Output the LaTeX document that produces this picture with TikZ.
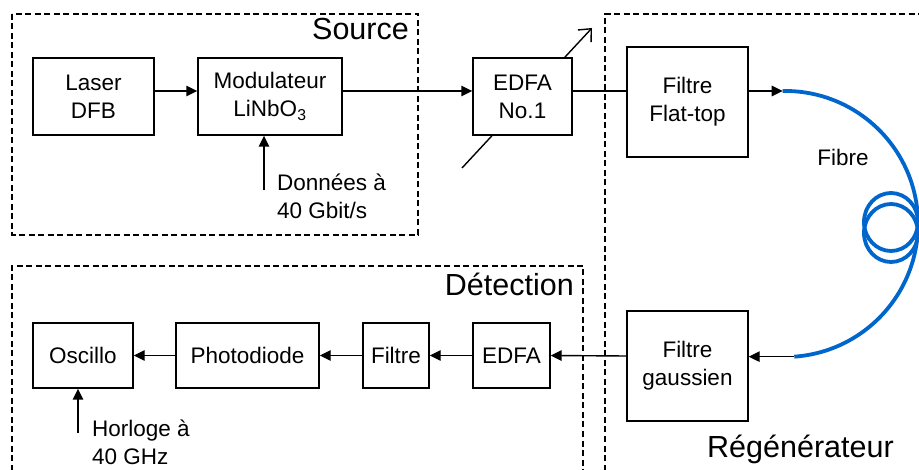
\documentclass[tikz,border=0pt]{standalone}
\usepackage{fontspec}
\setmainfont{Liberation Sans}
\usetikzlibrary{arrows.meta}
\definecolor{fibreblue}{RGB}{0,102,204}
\newcommand{\boxfont}{\fontsize{22.5}{28}\selectfont}
\newcommand{\labelfont}{\fontsize{30.5}{34}\selectfont}
\begin{document}
\begin{tikzpicture}[x=1pt,y=-1pt,
  box/.style={draw, line width=1.4pt, fill=white, align=center, inner sep=0pt, font=\boxfont},
  link/.style={line width=1.4pt},
  arr/.style={link, -{Triangle[length=11pt,width=10.5pt]}},
  gain/.style={link, -{Straight Barb[length=10pt,width=18pt,line width=1.4pt]}},
  frame/.style={line width=1.1pt, dash pattern=on 6pt off 3.5pt},
  bigl/.style={font=\labelfont, inner sep=0pt},
  note/.style={font=\boxfont, align=left, inner sep=0pt, anchor=west},
  fibre/.style={draw=fibreblue, line width=3.8pt}
]
\useasboundingbox (0,0) rectangle (919,470);
\clip (0,0) rectangle (919,470);

% dashed sub-system frames
\draw[frame] (12,14) rectangle (418,235);
\draw[frame] (12,480) -- (12,266) -- (583,266) -- (583,480);
\draw[frame] (605,480) -- (605,14) -- (930,14);
\node[bigl, anchor=base east] (srcl) at (409,40) {Source};
\node[bigl, anchor=base east] (detl) at (574,296) {Détection};
\node[bigl, anchor=base west] (regl) at (707,457) {Régénérateur};

% amplifier gain arrow, drawn under the EDFA box
\coordinate (gIn) at (462,168);
\coordinate (gOut) at (592,28);
\draw[gain] (gIn) -- (gOut);

% transmitter
\node[box, minimum width=121pt, minimum height=77pt] (laser) at (93.5,96.5) {Laser\\DFB};
\node[box, minimum width=144pt, minimum height=77pt] (mod) at (270,96.5) {Modulateur\\LiNbO\textsubscript{3}};
\node[box, minimum width=99pt, minimum height=77pt] (edfa1) at (522.5,96.5) {EDFA\\No.1};

% regenerator
\node[box, minimum width=121pt, minimum height=110pt] (flat) at (687.5,102) {Filtre\\Flat-top};
\node[box, minimum width=121pt, minimum height=110pt] (gauss) at (687.5,366) {Filtre\\gaussien};

% detection chain
\node[box, minimum width=77pt, minimum height=65pt] (edfa2) at (511.5,355.5) {EDFA};
\node[box, minimum width=66pt, minimum height=65pt] (filt) at (396,355.5) {Filtre};
\node[box, minimum width=143pt, minimum height=65pt] (photo) at (247.5,355.5) {Photodiode};
\node[box, minimum width=100pt, minimum height=65pt] (osc) at (83,355.5) {Oscillo};

% fibre spool
\coordinate (fibA) at (782.7,91);
\draw[fibre] (fibA) arc[start angle=91, end angle=-86, radius=133pt] coordinate (fibB);
\draw[fibre] (891,222) ellipse [x radius=27pt, y radius=29pt];
\draw[fibre] (891,233) ellipse [x radius=27pt, y radius=29pt];
\node[font=\boxfont, inner sep=0pt] (fibl) at (843,157) {Fibre};

% optical path
\draw[arr] ([yshift=5.5pt]laser.east) -- ([yshift=5.5pt]mod.west);
\draw[arr] ([yshift=5.5pt]mod.east) -- ([yshift=5.5pt]edfa1.west);
\draw[link] ([yshift=5.5pt]edfa1.east) -- ([yshift=11pt]flat.west);
\draw[arr] ([yshift=11pt]flat.east) -- (fibA);
\draw[arr] (fibB) -- (fibB -| gauss.east);
\draw[arr] ([yshift=10pt]gauss.west) -- (edfa2.east);
\draw[arr] (edfa2.west) -- (filt.east);
\draw[arr] (filt.west) -- (photo.east);
\draw[arr] (photo.west) -- (osc.east);

% electrical inputs
\coordinate (dataIn) at (264,190);
\draw[arr] (dataIn) -- (dataIn |- mod.south);
\node[note] (data) at (277,196) {Données à\\40 Gbit/s};
\coordinate (clkIn) at (78,433);
\draw[arr] (clkIn) -- (clkIn |- osc.south);
\node[note] (clk) at (92,442.5) {Horloge à\\40 GHz};
\end{tikzpicture}
\end{document}
